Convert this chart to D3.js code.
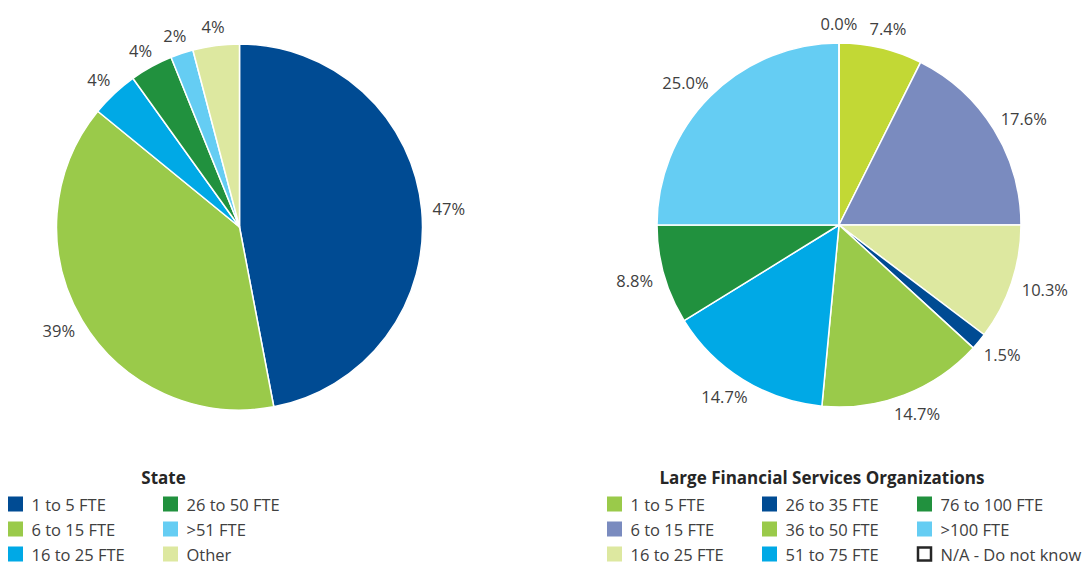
<!DOCTYPE html>
<html>
<head>
<meta charset="utf-8">
<script src="https://cdn.jsdelivr.net/npm/d3@7"></script>
<style>
  body { margin: 0; background: #fff; }
  text { font-family: "Open Sans", sans-serif; fill: #404040; }
</style>
</head>
<body>
<svg id="vis" width="1086" height="567"></svg>
<script>
// State chart
var stateCats = ["1 to 5 FTE", "6 to 15 FTE", "16 to 25 FTE", "26 to 50 FTE", ">51 FTE", "Other"];
var stateValues = [47.0, 38.9, 4.2, 3.8, 2.0, 4.1];
var stateColors = ["#004b93", "#9aca4a", "#00a9e6", "#21913e", "#65cdf3", "#dde8a0"];

// Large Financial Services Organizations chart
var lfsCats = ["1 to 5 FTE", "6 to 15 FTE", "16 to 25 FTE", "26 to 35 FTE", "36 to 50 FTE",
    "51 to 75 FTE", "76 to 100 FTE", ">100 FTE", "N/A - Do not know"];
var lfsValues = [7.4, 17.6, 10.3, 1.5, 14.7, 14.7, 8.8, 25.0, 0.0];
var lfsColors = ["#c2d835", "#7a8bbf", "#dde8a0", "#004b93", "#9aca4a", "#00a9e6", "#21913e", "#65cdf3", "#ffffff"];
// legend swatches (the first one differs from its slice in the original)
var lfsLegendColors = ["#9aca4a", "#7a8bbf", "#dde8a0", "#004b93", "#9aca4a", "#00a9e6", "#21913e", "#65cdf3", "#ffffff"];

var vis = d3.select("#vis");

var drawPie = function (opts) {
    var g = vis.append("g")
        .attr("transform", "translate(" + opts.cx + "," + opts.cy + ")");
    var pie = d3.pie().sort(null).value(function (d) { return d; });
    var arcs = pie(opts.values);
    var arc = d3.arc().innerRadius(0).outerRadius(opts.r);

    g.selectAll("path")
        .data(arcs)
        .enter().append("path")
        .attr("d", arc)
        .attr("fill", function (d, i) { return opts.colors[i]; })
        .attr("stroke", "#fff")
        .attr("stroke-width", 1.5)
        .attr("stroke-linejoin", "round");

    var fmt = d3.format(opts.fmt);
    g.selectAll("text.lbl")
        .data(arcs)
        .enter().append("text")
        .attr("class", "lbl")
        .attr("font-size", 16.5)
        .attr("text-anchor", "middle")
        .attr("dominant-baseline", "central")
        .text(function (d) { return fmt(d.data) + "%"; })
        .each(function (d) {
            var a = (d.startAngle + d.endAngle) / 2;
            var w = this.getComputedTextLength(), h = 16;
            var rr = opts.r + opts.gap;
            var x = Math.sin(a) * rr + Math.sin(a) * w / 2;
            var y = -Math.cos(a) * rr - Math.cos(a) * h / 2;
            d3.select(this).attr("x", x).attr("y", y);
        });

    // legend
    var lg = vis.append("g");
    lg.append("text")
        .attr("x", opts.titleX)
        .attr("y", 484)
        .attr("text-anchor", "middle")
        .attr("font-size", 17)
        .attr("font-weight", "bold")
        .style("fill", "#262626")
        .text(opts.title);

    var items = lg.selectAll("g.item")
        .data(opts.cats)
        .enter().append("g")
        .attr("class", "item")
        .attr("transform", function (d, i) {
            var col = Math.floor(i / 3), row = i % 3;
            return "translate(" + (opts.legendX + col * opts.colW) + "," + (510.5 + row * 25) + ")";
        });
    items.append("rect")
        .attr("x", function (d, i) { return opts.legendColors[i] === "#ffffff" ? 1 : 0; })
        .attr("y", function (d, i) { return opts.legendColors[i] === "#ffffff" ? -13 : -14; })
        .attr("width", function (d, i) { return opts.legendColors[i] === "#ffffff" ? 13 : 15; })
        .attr("height", function (d, i) { return opts.legendColors[i] === "#ffffff" ? 13 : 15; })
        .attr("fill", function (d, i) { return opts.legendColors[i]; })
        .attr("stroke", function (d, i) { return opts.legendColors[i] === "#ffffff" ? "#262626" : "none"; })
        .attr("stroke-width", 2.5);
    items.append("text")
        .attr("x", 23.5)
        .attr("y", 0)
        .attr("font-size", 16.5)
        .text(function (d) { return d; });
};

drawPie({
    cx: 239.5, cy: 227, r: 183, gap: 11,
    values: stateValues, colors: stateColors, fmt: ".0f",
    title: "State", titleX: 163.5,
    cats: stateCats, legendColors: stateColors,
    legendX: 8, colW: 155
});

drawPie({
    cx: 839, cy: 225, r: 182, gap: 12,
    values: lfsValues, colors: lfsColors, fmt: ".1f",
    title: "Large Financial Services Organizations", titleX: 822,
    cats: lfsCats, legendColors: lfsLegendColors,
    legendX: 607, colW: 155
});
</script>
</body>
</html>
